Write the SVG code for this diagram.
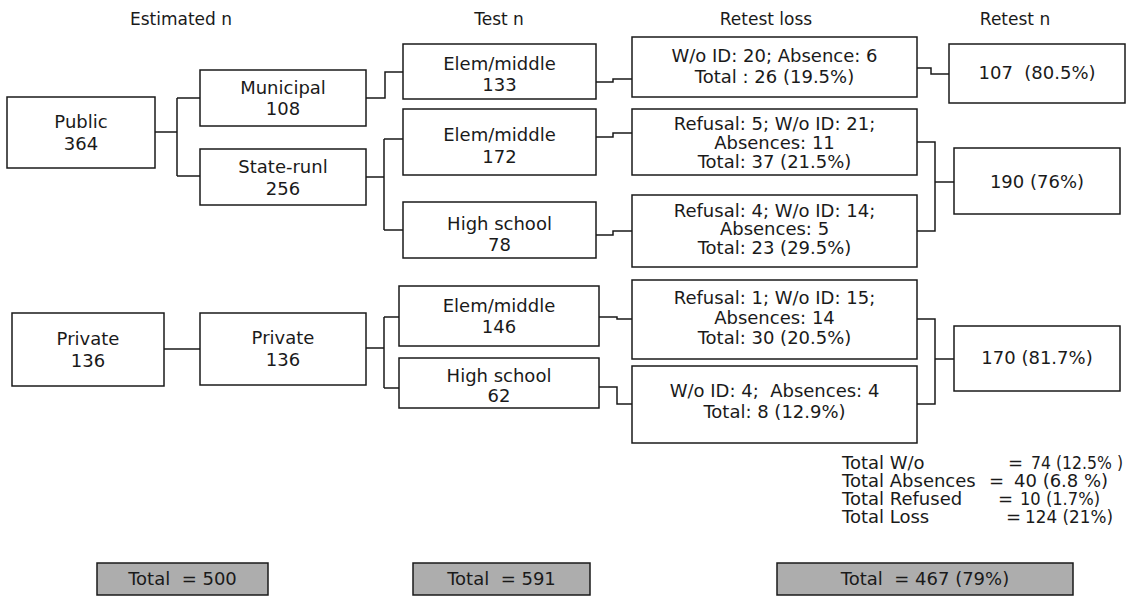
<svg xmlns="http://www.w3.org/2000/svg" width="1135" height="597" viewBox="0 0 1135 597">
<style>
text{font-family:"DejaVu Sans","Open Sans",sans-serif;font-size:18px;fill:#1a1a1a;text-anchor:middle}
.h{font-size:17px}
.box{fill:#fff;stroke:#1a1a1a;stroke-width:1.5}
.tot{fill:#adadad;stroke:#1a1a1a;stroke-width:1.5}
.conn{fill:none;stroke:#1a1a1a;stroke-width:1.5}
.l{text-anchor:start}
</style>
<rect width="1135" height="597" fill="#fff"/>
<g id="headers">
<text class="h" x="181" y="25">Estimated n</text>
<text class="h" x="499" y="25">Test n</text>
<text class="h" x="766" y="25">Retest loss</text>
<text class="h" x="1015" y="25">Retest n</text>
</g>
<g id="connectors">
<path class="conn" d="M155,132H177M177,98V176M177,98H200M177,176H200"/>
<path class="conn" d="M366,98H385V72H403"/>
<path class="conn" d="M366,177H384M384,139V230M384,139H403M384,230H403"/>
<path class="conn" d="M596,82H613V79H632"/>
<path class="conn" d="M596,137H613V133H632"/>
<path class="conn" d="M596,235H613V231H632"/>
<path class="conn" d="M917,68H931V74H949"/>
<path class="conn" d="M917,142H935V231H917M935,182H954"/>
<path class="conn" d="M164,349H200"/>
<path class="conn" d="M366,348H384M384,317V388M384,317H399M384,388H399"/>
<path class="conn" d="M599,317H617V319H632"/>
<path class="conn" d="M599,387H617V404H632"/>
<path class="conn" d="M917,319H935V404H917M935,359H954"/>
</g>
<g id="public"><rect class="box" x="7" y="97" width="148" height="71"/><text x="81" y="128">Public</text><text x="81" y="150">364</text></g>
<g id="municipal"><rect class="box" x="200" y="70" width="166" height="56"/><text x="283" y="94">Municipal</text><text x="283" y="115">108</text></g>
<g id="state-run"><rect class="box" x="200" y="149" width="166" height="56"/><text x="283" y="173">State-runl</text><text x="283" y="195">256</text></g>
<g id="elem133"><rect class="box" x="403" y="44" width="193" height="55"/><text x="499.5" y="70">Elem/middle</text><text x="499.5" y="91">133</text></g>
<g id="elem172"><rect class="box" x="403" y="109" width="193" height="66"/><text x="499.5" y="141">Elem/middle</text><text x="499.5" y="163">172</text></g>
<g id="hs78"><rect class="box" x="403" y="202" width="193" height="56"/><text x="499.5" y="230">High school</text><text x="499.5" y="251">78</text></g>
<g id="private1"><rect class="box" x="12" y="313" width="152" height="73"/><text x="88" y="345">Private</text><text x="88" y="367">136</text></g>
<g id="private2"><rect class="box" x="200" y="313" width="166" height="72"/><text x="283" y="344">Private</text><text x="283" y="366">136</text></g>
<g id="elem146"><rect class="box" x="399" y="286" width="200" height="60"/><text x="499" y="312">Elem/middle</text><text x="499" y="333">146</text></g>
<g id="hs62"><rect class="box" x="399" y="358" width="200" height="50"/><text x="499" y="382">High school</text><text x="499" y="402">62</text></g>
<g id="loss1"><rect class="box" x="632" y="37" width="285" height="60"/><text x="774.5" y="62">W/o ID: 20; Absence: 6</text><text x="774.5" y="83">Total : 26 (19.5%)</text></g>
<g id="loss2"><rect class="box" x="632" y="109" width="285" height="66"/><text x="774.5" y="130">Refusal: 5; W/o ID: 21;</text><text x="774.5" y="149">Absences: 11</text><text x="774.5" y="168">Total: 37 (21.5%)</text></g>
<g id="loss3"><rect class="box" x="632" y="195" width="285" height="72"/><text x="774.5" y="217">Refusal: 4; W/o ID: 14;</text><text x="774.5" y="235">Absences: 5</text><text x="774.5" y="254">Total: 23 (29.5%)</text></g>
<g id="loss4"><rect class="box" x="632" y="280" width="285" height="79"/><text x="774.5" y="304">Refusal: 1; W/o ID: 15;</text><text x="774.5" y="324">Absences: 14</text><text x="774.5" y="344">Total: 30 (20.5%)</text></g>
<g id="loss5"><rect class="box" x="632" y="366" width="285" height="77"/><text x="774.5" y="397" xml:space="preserve">W/o ID: 4;  Absences: 4</text><text x="774.5" y="418">Total: 8 (12.9%)</text></g>
<g id="retest107"><rect class="box" x="949" y="44" width="176" height="59"/><text x="1037" y="79" xml:space="preserve">107  (80.5%)</text></g>
<g id="retest190"><rect class="box" x="954" y="148" width="166" height="66"/><text x="1037" y="188">190 (76%)</text></g>
<g id="retest170"><rect class="box" x="954" y="326" width="166" height="65"/><text x="1037" y="364">170 (81.7%)</text></g>
<g id="summary">
<text class="l" x="842" y="469">Total W/o</text><text class="l" x="1008" y="469">=</text><text class="l" x="1031" y="469" textLength="92" lengthAdjust="spacingAndGlyphs">74 (12.5% )</text>
<text class="l" x="842" y="487">Total Absences</text><text class="l" x="989" y="487">=</text><text class="l" x="1014" y="487">40 (6.8 %)</text>
<text class="l" x="842" y="505">Total Refused</text><text class="l" x="998" y="505">=</text><text class="l" x="1020" y="505" textLength="80" lengthAdjust="spacingAndGlyphs">10 (1.7%)</text>
<text class="l" x="842" y="523">Total Loss</text><text class="l" x="1006" y="523">=</text><text class="l" x="1025" y="523" textLength="88" lengthAdjust="spacingAndGlyphs">124 (21%)</text>
</g>
<g id="total500"><rect class="tot" x="97" y="563" width="171" height="32"/><text x="182.5" y="585" xml:space="preserve">Total  = 500</text></g>
<g id="total591"><rect class="tot" x="413" y="563" width="177" height="32"/><text x="501.5" y="585" xml:space="preserve">Total  = 591</text></g>
<g id="total467"><rect class="tot" x="777" y="563" width="296" height="32"/><text x="925" y="585" xml:space="preserve">Total  = 467 (79%)</text></g>
</svg>
